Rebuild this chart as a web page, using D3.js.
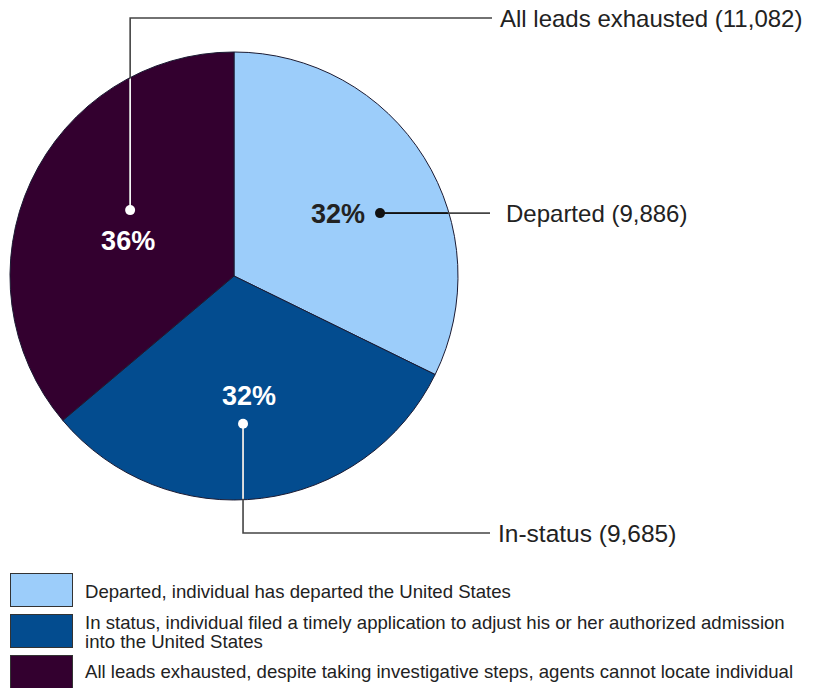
<!DOCTYPE html>
<html>
<head>
<meta charset="utf-8">
<script src="https://cdn.jsdelivr.net/npm/d3@7"></script>
<style>
  body { margin: 0; background: #fff; }
  svg { display: block; font-family: "Liberation Sans", Arial, sans-serif; }
</style>
</head>
<body>
<div id="chart"></div>
<script>
// data
const categories = ["Departed", "In-status", "All leads exhausted"];
const counts = [9886, 9685, 11082];
const percentLabels = ["32%", "32%", "36%"];
const calloutLabels = ["Departed (9,886)", "In-status (9,685)", "All leads exhausted (11,082)"];
const colors = ["#9ccdfa", "#034c8f", "#33002f"];
const legendLines = [
    ["Departed, individual has departed the United States"],
    ["In status, individual filed a timely application to adjust his or her authorized admission", "into the United States"],
    ["All leads exhausted, despite taking investigative steps, agents cannot locate individual"]
];

const width = 813, height = 688;
const cx = 234, cy = 276, radius = 224;

const svg = d3.select("#chart").append("svg")
    .attr("width", width)
    .attr("height", height);

const pieGen = d3.pie().sort(null).value(d => d);
const arcs = pieGen(counts);
const arc = d3.arc().innerRadius(0).outerRadius(radius);

const pie = svg.append("g").attr("transform", `translate(${cx},${cy})`);

pie.selectAll("path")
    .data(arcs)
    .enter().append("path")
    .attr("d", arc)
    .attr("fill", (d, i) => colors[i])
    .attr("stroke", "#1b1b33")
    .attr("stroke-width", 1);

// label anchor points, polar (degrees clockwise from top, radius)
const anchors = [
    { angle: 66.7, r: 159 },
    { angle: 176.5, r: 148 },
    { angle: 302.4, r: 123 }
];
function polar(a) {
    const t = a.angle * Math.PI / 180;
    return [cx + a.r * Math.sin(t), cy - a.r * Math.cos(t)];
}
const pts = anchors.map(polar);
const textX = [506, 498, 500];
const lineEnd = 490;

// leader paths
const paths = [
    // departed: straight right
    [[pts[0][0], pts[0][1]], [lineEnd, pts[0][1]]],
    // in-status: down then right
    [[pts[1][0], pts[1][1]], [pts[1][0], 533], [lineEnd, 533]],
    // all leads: up then right
    [[pts[2][0], pts[2][1]], [pts[2][0], 18], [lineEnd + 2, 18]]
];
const innerLine = ["#111", "#ffffff", "#ffffff"];

svg.append("clipPath").attr("id", "pieClip")
    .append("circle").attr("cx", cx).attr("cy", cy).attr("r", radius - 1);

const line = d3.line();
const leaders = svg.append("g");
leaders.selectAll("path.out")
    .data(paths)
    .enter().append("path")
    .attr("class", "out")
    .attr("d", d => line(d))
    .attr("fill", "none")
    .attr("stroke", "#444")
    .attr("stroke-width", 1.6);
leaders.selectAll("path.in")
    .data(paths)
    .enter().append("path")
    .attr("class", "in")
    .attr("clip-path", "url(#pieClip)")
    .attr("d", d => line(d))
    .attr("fill", "none")
    .attr("stroke", (d, i) => innerLine[i])
    .attr("stroke-width", 1.6);

leaders.selectAll("circle")
    .data(pts)
    .enter().append("circle")
    .attr("cx", d => d[0])
    .attr("cy", d => d[1])
    .attr("r", 5)
    .attr("fill", (d, i) => innerLine[i]);

// percent labels
const pctPos = [
    { x: pts[0][0] - 15, y: pts[0][1] + 10, anchor: "end", fill: "#222" },
    { x: pts[1][0] + 6, y: pts[1][1] - 19, anchor: "middle", fill: "#fff" },
    { x: pts[2][0] - 2, y: pts[2][1] + 40, anchor: "middle", fill: "#fff" }
];
svg.append("g").selectAll("text")
    .data(percentLabels)
    .enter().append("text")
    .attr("x", (d, i) => pctPos[i].x)
    .attr("y", (d, i) => pctPos[i].y)
    .attr("text-anchor", (d, i) => pctPos[i].anchor)
    .attr("fill", (d, i) => pctPos[i].fill)
    .attr("font-size", 27)
    .attr("font-weight", "bold")
    .text(d => d);

// callout texts
const calloutY = [pts[0][1], 533, 18];
const calloutSize = [24, 24.5, 24];
svg.append("g").selectAll("text")
    .data(calloutLabels)
    .enter().append("text")
    .attr("x", (d, i) => textX[i])
    .attr("y", (d, i) => calloutY[i])
    .attr("dy", "0.36em")
    .attr("fill", "#222")
    .attr("font-size", (d, i) => calloutSize[i])
    .text(d => d);

// legend
const swatchY = [573, 614, 655];
const legend = svg.append("g");
legend.selectAll("rect")
    .data(categories)
    .enter().append("rect")
    .attr("x", 10.5)
    .attr("y", (d, i) => swatchY[i] + 0.5)
    .attr("width", 62)
    .attr("height", 33)
    .attr("fill", (d, i) => colors[i])
    .attr("stroke", "#333")
    .attr("stroke-width", 1);

const legendTextY = [[591], [622, 641], [671]];
legend.selectAll("g.lt")
    .data(legendLines)
    .enter().append("g")
    .attr("class", "lt")
    .each(function (lines, i) {
        d3.select(this).selectAll("text")
            .data(lines)
            .enter().append("text")
            .attr("x", 85)
            .attr("y", (d, j) => legendTextY[i][j])
            .attr("dy", "0.36em")
            .attr("fill", "#222")
            .attr("font-size", 18.6)
            .text(d => d);
    });
</script>
</body>
</html>
